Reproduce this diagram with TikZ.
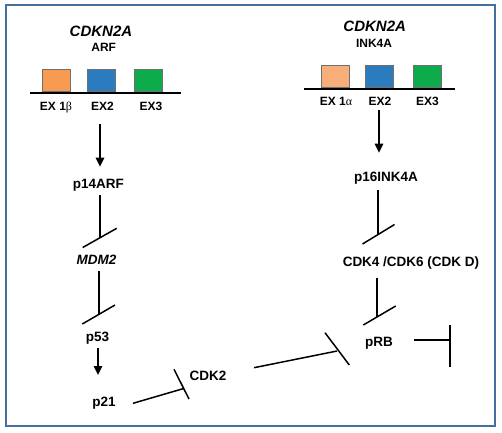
\documentclass[tikz,border=0pt]{standalone}
\usepackage{fontspec}
\setmainfont{Liberation Sans}
\newfontfamily\grk{Liberation Serif}
\usetikzlibrary{arrows.meta}
\definecolor{framecol}{HTML}{41719C}
\definecolor{exorangeL}{HTML}{F79A52}
\definecolor{exorangeR}{HTML}{F8AE78}
\definecolor{exblue}{HTML}{2B7BBF}
\definecolor{exgreen}{HTML}{0CAB4B}
\definecolor{exedge}{HTML}{707070}
\begin{document}
\begin{tikzpicture}[x=1pt,y=-1pt,
  lbl/.style={font=\fontsize{13.5}{15}\selectfont\bfseries, anchor=base, inner sep=0pt},
  gene/.style={font=\fontsize{15}{17}\selectfont\bfseries\itshape, anchor=base, inner sep=0pt},
  sub/.style={font=\fontsize{12}{14}\selectfont\bfseries, anchor=base, inner sep=0pt},
  exlbl/.style={font=\fontsize{12}{14}\selectfont\bfseries, anchor=base, inner sep=0pt},
  exon/.style={draw=exedge, line width=0.7pt, minimum width=28.5pt, minimum height=21.7pt, inner sep=0pt},
  chrom/.style={line width=2pt, black},
  conn/.style={line width=1.5pt, black},
  act/.style={conn, -{Triangle[length=9pt,width=8.5pt]}},
]
\useasboundingbox (0,0) rectangle (502,432);
\draw[framecol, line width=1.3pt] (6,5) rectangle (495,426);

% ---------- left column ----------
\node[gene] (gL) at (101,36.7) {CDKN2A};
\node[sub] (arf) at (103.7,51) {ARF};
\coordinate (chLs) at (30,93);
\coordinate (chLe) at (181,93);
\draw[chrom] (chLs) -- (chLe);
\node[exon, fill=exorangeL] (bL1) at (56.3,80.3) {};
\node[exon, fill=exblue] (bL2) at (101.2,80.3) {};
\node[exon, fill=exgreen] (bL3) at (148.5,80.3) {};
\node[exlbl] (eL1) at (56,110) {EX 1{\grk\mdseries β}};
\node[exlbl] (eL2) at (102.5,110) {EX2};
\node[exlbl] (eL3) at (151,110) {EX3};

\node[lbl] (p14) at (98.3,188.3) {p14ARF};
\node[lbl, font=\fontsize{13.5}{15}\selectfont\bfseries\itshape] (mdm2) at (96.5,264) {MDM2};
\node[lbl] (p53) at (97.5,341.7) {p53};
\node[lbl] (p21) at (104,406.7) {p21};
\node[lbl] (cdk2) at (208,380) {CDK2};

\coordinate (a1s) at (100,124);
\coordinate (a1e) at (100,166.7);
\draw[act] (a1s) -- (a1e);

\coordinate (i1s) at (100,195);
\coordinate (i1e) at (100,238);
\coordinate (b1a) at (82.7,247.5);
\coordinate (b1b) at (116.7,228.3);
\draw[conn] (i1s) -- (i1e);
\draw[conn] (b1a) -- (b1b);

\coordinate (i2s) at (99,271);
\coordinate (i2e) at (99,314.5);
\coordinate (b2a) at (82.3,324);
\coordinate (b2b) at (115,305);
\draw[conn] (i2s) -- (i2e);
\draw[conn] (b2a) -- (b2b);

\coordinate (a2s) at (98,348.3);
\coordinate (a2e) at (98,375);
\draw[act] (a2s) -- (a2e);

\coordinate (i3s) at (133,403.3);
\coordinate (i3e) at (183.7,388.5);
\coordinate (b3a) at (174,369.3);
\coordinate (b3b) at (189,399);
\draw[conn] (i3s) -- (i3e);
\draw[conn] (b3a) -- (b3b);

% ---------- right column ----------
\node[gene] (gR) at (374.7,31.7) {CDKN2A};
\node[sub] (ink) at (374,47.3) {INK4A};
\coordinate (chRs) at (304,89.3);
\coordinate (chRe) at (455,89.3);
\draw[chrom] (chRs) -- (chRe);
\node[exon, fill=exorangeR] (bR1) at (335.3,76) {};
\node[exon, fill=exblue] (bR2) at (379.5,76) {};
\node[exon, fill=exgreen] (bR3) at (427.2,76) {};
\node[exlbl] (eR1) at (336,105) {EX 1{\grk\mdseries α}};
\node[exlbl] (eR2) at (380,105) {EX2};
\node[exlbl] (eR3) at (427.5,105) {EX3};

\node[lbl] (p16) at (386,181.7) {p16INK4A};
\node[lbl] (cdk46) at (411,266) {CDK4 /CDK6 (CDK D)};
\node[lbl] (prb) at (379,346.7) {pRB};

\coordinate (a3s) at (379,110);
\coordinate (a3e) at (379,152.7);
\draw[act] (a3s) -- (a3e);

\coordinate (i4s) at (378,190);
\coordinate (i4e) at (378,235);
\coordinate (b4a) at (362.5,244);
\coordinate (b4b) at (394.5,224.5);
\draw[conn] (i4s) -- (i4e);
\draw[conn] (b4a) -- (b4b);

\coordinate (i5s) at (377,278.3);
\coordinate (i5e) at (377,317);
\coordinate (b5a) at (363.3,325);
\coordinate (b5b) at (395.7,306);
\draw[conn] (i5s) -- (i5e);
\draw[conn] (b5a) -- (b5b);

\coordinate (i6s) at (414,340);
\coordinate (i6e) at (450,340);
\coordinate (b6a) at (450,325);
\coordinate (b6b) at (450,367);
\draw[conn] (i6s) -- (i6e);
\draw[conn] (b6a) -- (b6b);

% CDK2 -| pRB
\coordinate (i7s) at (254,367.7);
\coordinate (i7e) at (337,351);
\coordinate (b7a) at (325,332.7);
\coordinate (b7b) at (349.3,365);
\draw[conn] (i7s) -- (i7e);
\draw[conn] (b7a) -- (b7b);
\end{tikzpicture}
\end{document}
